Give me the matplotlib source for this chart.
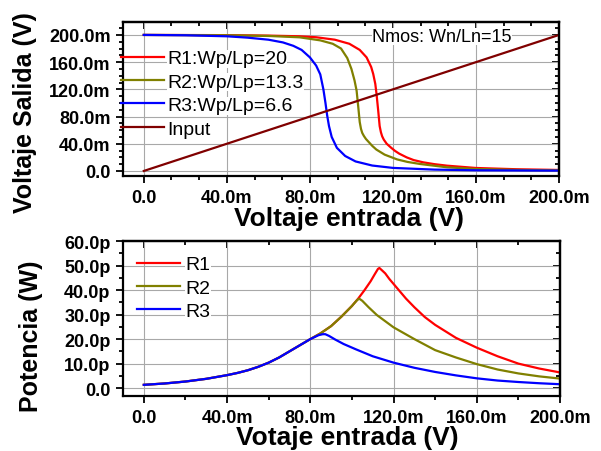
import matplotlib
matplotlib.use("Agg")
import matplotlib.pyplot as plt
from matplotlib.ticker import MultipleLocator

plt.rcParams["font.family"] = ["Liberation Sans", "DejaVu Sans"]

# ---- data, input voltage in mV ----
# transfer curves, output voltage in mV
vin_r1 = [0, 40, 60, 75, 83, 92, 99, 104, 107.3, 109.5, 110.5, 111.5, 112.1, 112.9,
          113.6, 114.2, 114.8, 115.6, 117, 119, 121, 123, 126.6, 130, 134.6, 140, 146,
          160, 180, 200]
vout_r1 = [200, 199.7, 199, 198, 196.6, 193, 187, 178, 167, 153, 142.6, 128, 113, 88.7,
           66, 57, 51, 46, 40, 34.5, 29.5, 25.5, 20, 16, 12.7, 10, 7.8,
           4.4, 2.5, 1.5]
vin_r2 = [0, 40, 60, 75, 85, 91, 95, 98, 100, 101.5, 102.5, 103.3, 104.0, 104.6,
          105.2, 106, 107, 108.5, 110, 112, 116, 122, 127, 133, 146, 160, 180, 200]
vout_r2 = [200, 199.5, 198.5, 196.5, 192, 187, 180, 166, 150, 133, 118, 94, 72, 62,
           56, 51.5, 47, 42, 37, 31.5, 24, 17, 13.3, 10.3, 5.4, 2.9, 1.5, 0.8]
vin_r3 = [0, 20, 40, 50, 60, 67, 72, 76, 80, 83, 85, 86.5, 87.5, 88.3, 89.2, 90.5,
          93, 97, 102, 110, 120, 140, 160, 200]
vout_r3 = [200, 199.5, 198, 196, 193, 189, 184, 178, 167, 155, 142, 120, 100, 82, 66, 50,
           34, 22, 14, 8, 4.5, 2, 1, 0.5]
vin_input = [0, 200]
vout_input = [0, 200]

# power curves, pW
p_vin_r1 = [0, 10, 20, 30, 40, 45, 50, 55, 60, 65, 70, 75, 80, 85, 90, 95, 100, 103,
            106, 109, 111, 112.5, 113.2, 114.5, 116, 118, 122, 126, 130, 135, 140, 150,
            160, 170, 180, 190, 200]
p_r1 = [1.35, 1.9, 2.7, 3.8, 5.3, 6.2, 7.3, 8.7, 10.4, 12.5, 15.0, 17.5, 20.0, 22.4,
        25.3, 29.2, 33.5, 36.5, 39.9, 43.6, 46.5, 48.6, 49.0, 48.0, 46.8, 44.5, 40.5,
        36.5, 33.0, 29.0, 25.8, 20.5, 16.5, 13.0, 10.0, 8.0, 6.4]
p_vin_r2 = [0, 10, 20, 30, 40, 45, 50, 55, 60, 65, 70, 75, 80, 85, 90, 95, 100, 101,
            102.5, 103.5, 105, 108, 112, 120, 130, 140, 150, 160, 170, 180, 190, 200]
p_r2 = [1.35, 1.9, 2.7, 3.8, 5.3, 6.2, 7.3, 8.7, 10.4, 12.5, 15.0, 17.5, 20.0, 22.4,
        25.3, 29.2, 33.5, 34.5, 35.9, 36.5, 35.6, 33.0, 29.8, 24.8, 20.0, 15.5, 12.5,
        9.8, 7.6, 6.0, 4.8, 3.9]
p_vin_r3 = [0, 10, 20, 30, 40, 45, 50, 55, 60, 65, 70, 75, 80, 84, 86, 87.2, 89, 92,
            96, 102, 110, 120, 130, 140, 150, 160, 170, 180, 190, 200]
p_r3 = [1.35, 1.9, 2.7, 3.8, 5.3, 6.2, 7.3, 8.7, 10.4, 12.5, 15.0, 17.5, 20.0, 21.6,
        22.0, 22.0, 21.3, 19.8, 18.0, 15.8, 13.0, 10.4, 8.3, 6.6, 5.2, 4.0, 3.1, 2.5,
        2.0, 1.6]

x_ticks = [0, 40, 80, 120, 160, 200]
x_ticklabels = ["0.0", "40.0m", "80.0m", "120.0m", "160.0m", "200.0m"]
v_ticks = [0, 40, 80, 120, 160, 200]
v_ticklabels = ["0.0", "40.0m", "80.0m", "120.0m", "160.0m", "200.0m"]
p_ticks = [0, 10, 20, 30, 40, 50, 60]
p_ticklabels = ["0.0", "10.0p", "20.0p", "30.0p", "40.0p", "50.0p", "60.0p"]

RED = "#ff0000"
OLIVE = "#808000"
BLUE = "#0000ff"
MAROON = "#800000"


def style_axes(ax, xminor, yminor):
    for s in ax.spines.values():
        s.set_linewidth(1.6)
    ax.xaxis.set_minor_locator(MultipleLocator(xminor))
    ax.yaxis.set_minor_locator(MultipleLocator(yminor))
    ax.tick_params(which="both", direction="out", width=1.3, labelsize=13)
    ax.tick_params(axis="x", pad=4.5)
    ax.tick_params(axis="y", pad=4)
    ax.tick_params(which="major", length=5)
    ax.tick_params(which="minor", length=3)
    for lab in ax.get_xticklabels() + ax.get_yticklabels():
        lab.set_fontweight("bold")
    ax.grid(True, which="major", color="#a8a8a8", lw=0.8)
    ax.set_axisbelow(True)

    top = ax.secondary_xaxis("top")
    top.set_xticks(ax.get_xticks())
    top.xaxis.set_minor_locator(MultipleLocator(xminor))
    top.tick_params(which="both", direction="in", width=1.3, labeltop=False)
    top.tick_params(which="major", length=5)
    top.tick_params(which="minor", length=3)
    top.spines["top"].set_linewidth(1.6)
    right = ax.secondary_yaxis("right")
    right.set_yticks(ax.get_yticks())
    right.yaxis.set_minor_locator(MultipleLocator(yminor))
    right.tick_params(which="both", direction="in", width=1.3, labelright=False)
    right.tick_params(which="major", length=5)
    right.tick_params(which="minor", length=3)
    right.spines["right"].set_linewidth(1.6)


def white_legend(leg):
    for t in leg.get_texts():
        t.set_bbox(dict(facecolor="white", edgecolor="none", pad=0.3))


fig = plt.figure(figsize=(6.01, 4.52), dpi=100)

# ---- top: transfer characteristic ----
ax1 = fig.add_axes([0.2047, 0.6084, 0.7255, 0.3407])
ax1.plot(vin_r1, vout_r1, color=RED, lw=1.6, label="R1:Wp/Lp=20")
ax1.plot(vin_r2, vout_r2, color=OLIVE, lw=1.6, label="R2:Wp/Lp=13.3")
ax1.plot(vin_r3, vout_r3, color=BLUE, lw=1.6, label="R3:Wp/Lp=6.6")
ax1.plot(vin_input, vout_input, color=MAROON, lw=1.6, label="Input")
ax1.set_xlim(-10, 200)
ax1.set_ylim(-7.4, 219)
ax1.set_xticks(x_ticks)
ax1.set_xticklabels(x_ticklabels)
ax1.set_yticks(v_ticks)
ax1.set_yticklabels(v_ticklabels)
style_axes(ax1, 40 / 3, 10)
ax1.set_xlabel("Voltaje entrada (V)", fontsize=19, fontweight="bold")
ax1.set_ylabel("Voltaje Salida (V)", fontsize=18, fontweight="bold")
ax1.xaxis.set_label_coords(0.518, -0.195)
ax1.yaxis.set_label_coords(-0.197, 0.42)
leg1 = ax1.legend(loc="upper left", bbox_to_anchor=(-0.004, 0.82), frameon=False,
                  fontsize=14, handlelength=2.2, handletextpad=0.15,
                  labelspacing=0.3, borderpad=0, borderaxespad=0)
white_legend(leg1)
ax1.text(0.731, 0.905, "Nmos: Wn/Ln=15", transform=ax1.transAxes, ha="center",
         va="center", fontsize=13,
         bbox=dict(facecolor="white", edgecolor="none", pad=0.3))

# ---- bottom: power ----
ax2 = fig.add_axes([0.2047, 0.1217, 0.7271, 0.3429])
ax2.plot(p_vin_r1, p_r1, color=RED, lw=1.6, label="R1")
ax2.plot(p_vin_r2, p_r2, color=OLIVE, lw=1.6, label="R2")
ax2.plot(p_vin_r3, p_r3, color=BLUE, lw=1.6, label="R3")
ax2.set_xlim(-10, 200)
ax2.set_ylim(-3.2, 60)
ax2.set_xticks(x_ticks)
ax2.set_xticklabels(x_ticklabels)
ax2.set_yticks(p_ticks)
ax2.set_yticklabels(p_ticklabels)
style_axes(ax2, 20, 5)
ax2.set_xlabel("Votaje entrada (V)", fontsize=19, fontweight="bold")
ax2.set_ylabel("Potencia (W)", fontsize=18, fontweight="bold")
ax2.xaxis.set_label_coords(0.513, -0.19)
ax2.yaxis.set_label_coords(-0.183, 0.39)
leg2 = ax2.legend(loc="upper left", bbox_to_anchor=(0.032, 0.905), frameon=False,
                  fontsize=14, handlelength=2.2, handletextpad=0.3,
                  labelspacing=0.3, borderpad=0, borderaxespad=0)
white_legend(leg2)

fig.savefig("out.png", dpi=100)
